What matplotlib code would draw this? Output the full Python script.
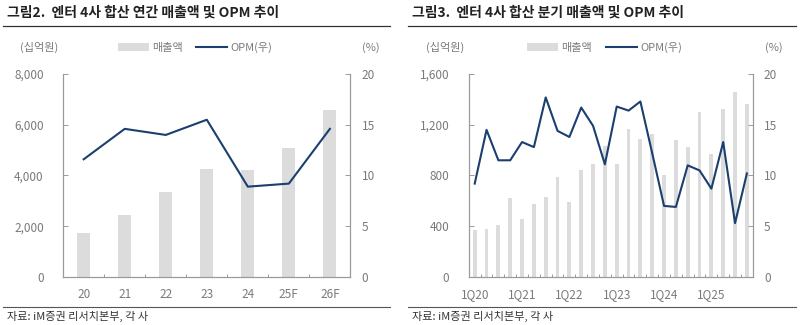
import matplotlib
matplotlib.use("Agg")
import matplotlib.pyplot as plt
from matplotlib.lines import Line2D
from matplotlib.patches import Patch
import numpy as np

plt.rcParams['font.family'] = ['Noto Sans CJK KR', 'DejaVu Sans']

# annual data
years = ['20', '21', '22', '23', '24', '25F', '26F']
sales_year = [1750, 2430, 3340, 4250, 4210, 5100, 6600]
opm_year = [11.6, 14.6, 14.0, 15.5, 8.9, 9.2, 14.6]

# quarterly data, 1Q20 ~ 4Q25
quarters = ['%dQ%d' % (q, y) for y in range(20, 26) for q in range(1, 5)]
sales_qtr = [368, 376, 408, 621, 458, 574, 629, 792, 592, 842, 889, 1032,
             889, 1168, 1087, 1126, 803, 1079, 1021, 1300, 968, 1324, 1455, 1366]
opm_qtr = [9.2, 14.5, 11.5, 11.5, 13.3, 12.8, 17.7, 14.4, 13.8, 16.7, 14.9, 11.1,
           16.8, 16.4, 17.3, 12.2, 7.0, 6.9, 11.0, 10.5, 8.7, 13.3, 5.3, 10.2]

BAR_C = '#dcdcdc'
LINE_C = '#1b3f6e'
SPINE_C = '#9a9a9a'
TXT_C = '#7a7a7a'


def draw_panel(fig, rect, labels, sales, opm, ymax, label_step, bar_w):
    ax = fig.add_axes(rect)
    n = len(labels)
    x = np.arange(n)
    ax.bar(x, sales, width=bar_w, color=BAR_C, zorder=1)
    ax.set_xlim(-0.5, n - 0.5)
    ax.set_ylim(0, ymax)
    yt = np.linspace(0, ymax, 5)
    ax.set_yticks(yt)
    ax.set_yticklabels(['{:,.0f}'.format(v) for v in yt])

    ax2 = ax.twinx()
    ax2.plot(x, opm, color=LINE_C, lw=1.5, zorder=3)
    ax2.set_ylim(0, 20)
    ax2.set_yticks([0, 5, 10, 15, 20])

    # category labels at bar centres, ticks at boundaries
    ax.set_xticks(x[::label_step])
    ax.set_xticklabels(labels[::label_step])
    ax.set_xticks(np.arange(n + 1) - 0.5, minor=True)
    ax.tick_params(axis='x', which='major', length=0, pad=8, labelsize=8.5, labelcolor=TXT_C)
    ax.tick_params(axis='x', which='minor', direction='in', length=2.2, width=0.7, color=SPINE_C)

    for a in (ax, ax2):
        a.tick_params(axis='y', direction='in', length=3.5, width=0.7, color=SPINE_C,
                      labelsize=8.5, labelcolor=TXT_C, pad=14)
        a.spines['top'].set_visible(False)
        for s in ('left', 'right', 'bottom'):
            a.spines[s].set_color(SPINE_C)
            a.spines[s].set_linewidth(0.8)
    ax2.tick_params(axis='y', pad=8)
    ax.set_zorder(ax2.get_zorder() - 1)
    ax2.patch.set_visible(False)
    return ax


fig = plt.figure(figsize=(8, 3.25), dpi=100)

draw_panel(fig, [0.079, 0.148, 0.359, 0.624], years, sales_year, opm_year, 8000, 1, 0.32)
draw_panel(fig, [0.586, 0.148, 0.355, 0.624], quarters, sales_qtr, opm_qtr, 1600, 4, 0.32)

titles = ['그림2.  엔터 4사 합산 연간 매출액 및 OPM 추이',
          '그림3.  엔터 4사 합산 분기 매출액 및 OPM 추이']
for x0, x1, title, lx, rx, legx in [(0.004, 0.488, titles[0], 0.025, 0.475, 0.14),
                                     (0.51, 0.995, titles[1], 0.532, 0.978, 0.652)]:
    fig.text(x0 + 0.005, 0.962, title, fontsize=10, fontweight='bold', color='#222222', va='center')
    fig.add_artist(Line2D([x0, x1], [0.921, 0.921], color='#333333', lw=0.9))
    fig.add_artist(Line2D([x0, x1], [0.055, 0.055], color='#555555', lw=0.8))
    fig.text(x0 + 0.005, 0.025, '자료: iM증권 리서치본부, 각 사', fontsize=8, color='#333333', va='center')
    fig.text(lx, 0.855, '(십억원)', fontsize=8, color=TXT_C, va='center')
    fig.text(rx, 0.855, '(%)', fontsize=8, color=TXT_C, va='center', ha='right')
    handles = [Patch(facecolor=BAR_C, edgecolor='none'), Line2D([], [], color=LINE_C, lw=1.5)]
    fig.legend(handles, ['매출액', 'OPM(우)'], loc='center left', bbox_to_anchor=(legx, 0.855),
               ncol=2, frameon=False, fontsize=8, handlelength=2.8, handleheight=0.7,
               columnspacing=1.2, handletextpad=0.3, labelcolor=TXT_C, borderpad=0)

fig.savefig('out.png', dpi=100)
